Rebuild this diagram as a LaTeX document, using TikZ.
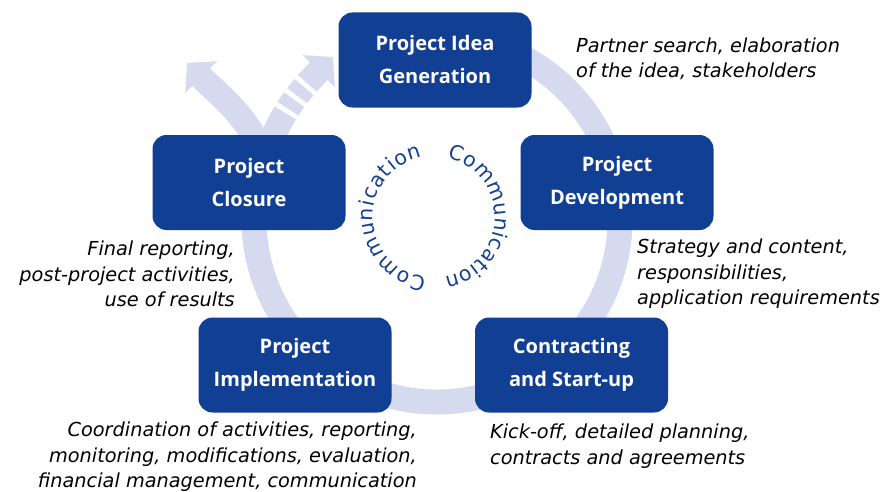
\documentclass[tikz,border=0pt]{standalone}
\usepackage{fontspec}
\setmainfont{Open Sans}
\newfontfamily\notefont{DejaVu Sans}
\usetikzlibrary{arrows.meta,decorations.text}
\definecolor{phaseblue}{RGB}{17,63,147}
\definecolor{ringgray}{RGB}{214,218,238}

\begin{document}
\begin{tikzpicture}[x=1pt, y=1pt,
	phase/.style={rectangle, rounded corners=14pt, fill=phaseblue, text=white, font=\bfseries\fontsize{20}{33}\selectfont, minimum width=193pt, minimum height=95pt, align=center, inner sep=0pt},
	note/.style={font=\notefont\itshape\fontsize{19.3}{25.5}\selectfont, inner sep=0pt},
	ring/.style={line width=25pt, draw=ringgray},
	ringtip/.tip={Triangle[length=20pt, width=44pt]}]
	\useasboundingbox (0,0) rectangle (882,491);
	\coordinate (hub) at (437,272);
	\coordinate (talk) at (434,274);
	% the ring and its fork
	\draw[ring] (hub) ++(100:183) arc[start angle=100, end angle=-200, radius=183] coordinate (fork);
	\coordinate (out1) at (187,428);
	\coordinate (out2) at (333,434);
	\draw[ring, -ringtip] (fork) to[out=115, in=-45] (out1);
	\draw[ring, ringtip-, dash pattern=on 18pt off 5pt on 11pt off 5pt on 11pt off 5pt on 300pt] (out2) to[out=225, in=70] (fork);
	% phases
	\node[phase] (idea) at (435,431) {Project Idea\\Generation};
	\node[phase] (devel) at (617,308.5) {Project\\Development};
	\node[phase] (contract) at (571.5,126) {Contracting\\and Start-up};
	\node[phase] (impl) at (295,126) {Project\\Implementation};
	\node[phase] (closure) at (249,308.5) {Project\\Closure};
	% notes
	\node[note, anchor=west, align=left] (ideanote) at (576,432) {Partner search, elaboration\\of the idea, stakeholders};
	\node[note, anchor=west, align=left] (develnote) at (637,217) {Strategy and content,\\responsibilities,\\application requirements};
	\node[note, anchor=west, align=left] (contractnote) at (490,45) {Kick-off, detailed planning,\\contracts and agreements};
	\node[note, anchor=east, align=right] (implnote) at (417,34) {Coordination of activities, reporting,\\monitoring, modifications, evaluation,\\financial management, communication};
	\node[note, anchor=east, align=right] (closurenote) at (235,217) {Final reporting,\\post-project activities,\\use of results};
	% communication
	\path[decorate, decoration={text along path, text align=fit to path, text={|\notefont\fontsize{20.5}{20.5}\selectfont\color{phaseblue}|Communication}}] (talk) ++(77:61) arc[start angle=77, end angle=-80, radius=61];
	\path[decorate, decoration={text along path, text align=fit to path, text={|\notefont\fontsize{20.5}{20.5}\selectfont\color{phaseblue}|Communication}}] (talk) ++(263:61) arc[start angle=263, end angle=101, radius=61];
\end{tikzpicture}
\end{document}
